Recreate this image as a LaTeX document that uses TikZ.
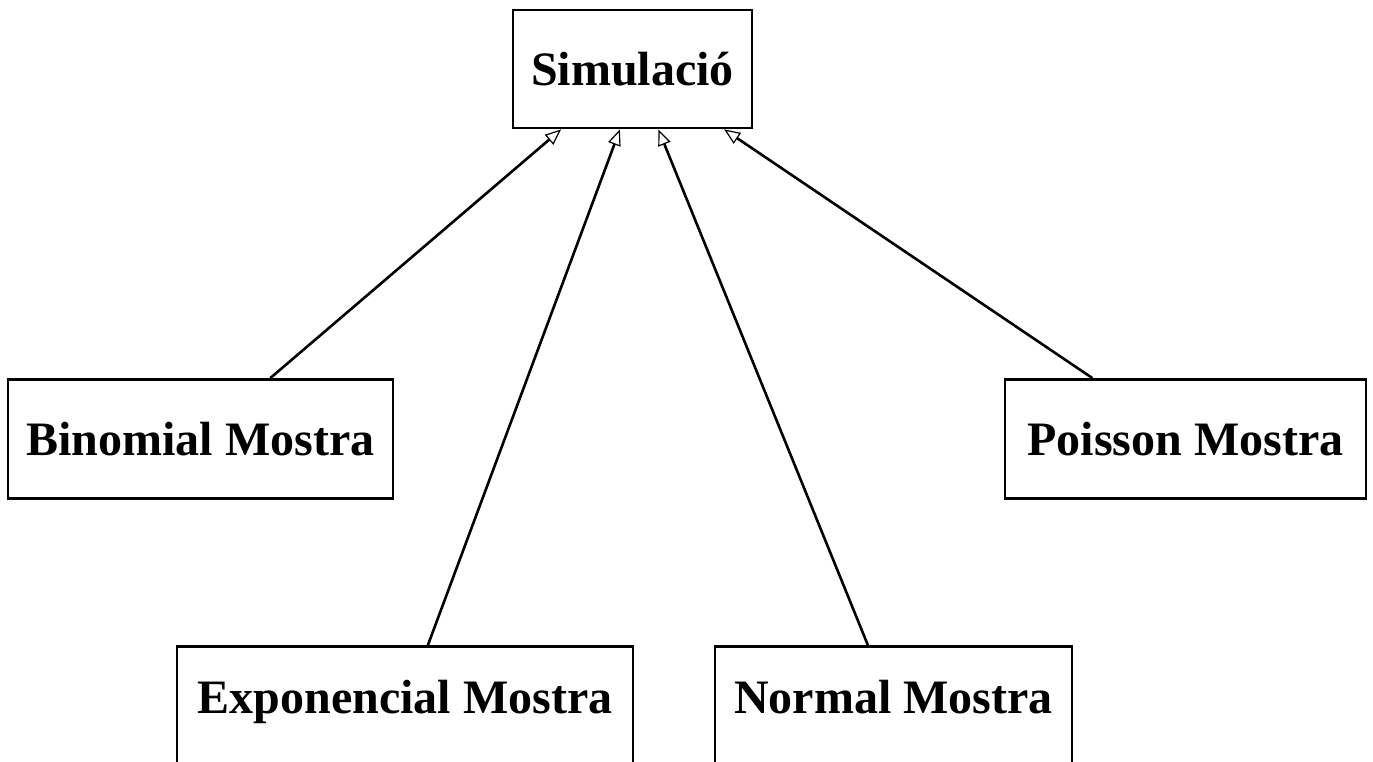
\documentclass[tikz,border=0pt]{standalone}
\usepackage{fontspec}
\setmainfont{Liberation Serif}
\usetikzlibrary{arrows.meta,calc}

\tikzset{
  classbox/.style={draw=black, line width=2.8pt, fill=white, inner xsep=0pt, inner ysep=0pt,
    font=\fontsize{48}{57}\selectfont\bfseries, align=center},
  midbox/.style={classbox, text height=32pt, text depth=0pt},
  lowbox/.style={classbox, anchor=north, text height=67pt, text depth=90pt},
  inherit/.style={line width=2.6pt, -{Triangle[open, length=16pt, width=13pt, line width=1.2pt]}}
}

\begin{document}
\begin{tikzpicture}[x=1pt, y=-1pt]
  \useasboundingbox (0,0) rectangle (1373,761);
  \clip (0,0) rectangle (1373,761);

  % superclass
  \node[midbox, minimum width=239pt, minimum height=118pt] (sim) at (632.5,69) {Simulació};

  % subclasses
  \node[midbox, minimum width=385pt, minimum height=119pt] (bin) at (200.5,439) {Binomial Mostra};
  \node[midbox, minimum width=361pt, minimum height=119pt] (poi) at (1185.5,439) {Poisson Mostra};
  \node[lowbox, minimum width=456pt] (exp) at (405,645) {Exponencial Mostra};
  \node[lowbox, minimum width=357pt] (nor) at (893.5,645) {Normal Mostra};

  % generalisation arrows
  \draw[inherit] ($(bin.north west)!0.68!(bin.north east)$) -- ($(sim.south west)!0.205!(sim.south east)$);
  \draw[inherit] ($(exp.north west)!0.55!(exp.north east)$) -- ($(sim.south west)!0.448!(sim.south east)$);
  \draw[inherit] ($(nor.north west)!0.4286!(nor.north east)$) -- ($(sim.south west)!0.607!(sim.south east)$);
  \draw[inherit] ($(poi.north west)!0.244!(poi.north east)$) -- ($(sim.south west)!0.879!(sim.south east)$);
\end{tikzpicture}
\end{document}
